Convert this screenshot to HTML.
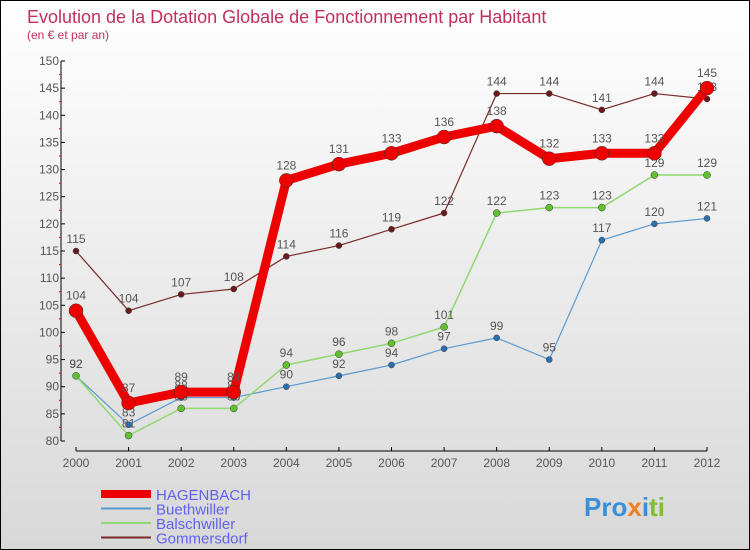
<!DOCTYPE html>
<html><head><meta charset="utf-8"><style>
body{margin:0}
#c{width:748px;height:548px;border:1px solid #000;background:linear-gradient(#fff,#d8d8d8);position:relative;overflow:hidden;font-family:"Liberation Sans",sans-serif}
</style></head><body>
<div id="c">
<svg id="s" width="748" height="548">
<text x="26" y="22" font-size="18" fill="#c0305a">Evolution de la Dotation Globale de Fonctionnement par Habitant</text>
<text x="26" y="38" font-size="12" fill="#c0305a">(en € et par an)</text>
<g id="ax"></g><g id="ser"></g><g id="leg"></g>
<text x="583" y="515" font-size="26" font-weight="bold"><tspan fill="#3a8fd8">Pro</tspan><tspan fill="#f08020">x</tspan><tspan fill="#3a8fd8">i</tspan><tspan fill="#80c030">ti</tspan></text>
</svg>
</div>
<script>
const years=[2000,2001,2002,2003,2004,2005,2006,2007,2008,2009,2010,2011,2012];
const yTicks=[80,85,90,95,100,105,110,115,120,125,130,135,140,145,150];
const hagenbach=[104,87,89,89,128,131,133,136,138,132,133,133,145];
const buethwiller=[92,83,88,88,90,92,94,97,99,95,117,120,121];
const balschwiller=[92,81,86,86,94,96,98,101,122,123,123,129,129];
const gommersdorf=[115,104,107,108,114,116,119,122,144,144,141,144,143];
const NS="http://www.w3.org/2000/svg";
const X=i=>75+i*(631/12);
const Y=v=>440-(v-80)*(380/70);
function mk(p,t,a){const e=document.createElementNS(NS,t);for(const k in a)e.setAttribute(k,a[k]);p.appendChild(e);return e;}
const ax=document.getElementById('ax');
let e=mk(ax,'line',{x1:60,y1:Y(150),x2:60,y2:Y(80),stroke:'#000'});


e=mk(ax,'line',{x1:X(0),y1:450,x2:X(12),y2:450,stroke:'#000'});


yTicks.forEach(v=>{mk(ax,'line',{x1:60,y1:Y(v),x2:64,y2:Y(v),stroke:'#000'});
 if(v<150)mk(ax,'line',{x1:58,y1:Y(v+2.5),x2:60,y2:Y(v+2.5),stroke:'#e00'});
 const t=mk(ax,'text',{x:58,y:Y(v)+4,'font-size':12,fill:'#555','text-anchor':'end'});t.textContent=v;
 
 });
years.forEach((y,i)=>{mk(ax,'line',{x1:X(i),y1:446,x2:X(i),y2:450,stroke:'#000'});
 const t=mk(ax,'text',{x:X(i),y:466,'font-size':12,fill:'#555','text-anchor':'middle'});t.textContent=y;
 
 });
const series=[[gommersdorf,'#7a2a2a','#6a1a1a',1.2,3,'gommersdorf'],[buethwiller,'#5a9ad0','#2a70b0',1.2,3,'buethwiller'],[balschwiller,'#90d870','#60c030',1.5,3.5,'balschwiller'],[hagenbach,'#ee0000','#ee0000',9,7,'hagenbach']];
const sg=document.getElementById('ser');
series.forEach(([d,c,pc,w,r,n])=>{
 const g=mk(sg,'g',{});
 
 
 const l=mk(g,'polyline',{points:d.map((v,i)=>X(i)+','+Y(v)).join(' '),fill:'none',stroke:c,'stroke-width':w,'stroke-linejoin':'round'});
 
 
 d.forEach((v,i)=>{const p=mk(g,'circle',{cx:X(i),cy:Y(v),r:r,fill:pc,stroke:'#333','stroke-width':0.5});
  
  
  const t=mk(g,'text',{x:X(i),y:Y(v)-(n==='hagenbach'?11:8),'font-size':12,fill:'#555','text-anchor':'middle'});t.textContent=v;
  
  });
});
const lg=document.getElementById('leg');
[['HAGENBACH','#ee0000',8],['Buethwiller','#5a9ad0',2],['Balschwiller','#90d870',2],['Gommersdorf','#7a2a2a',2]].forEach(([n,c,w],i)=>{
 const y=493+i*14.5;
 const l=mk(lg,'line',{x1:100,y1:y,x2:150,y2:y,stroke:c,'stroke-width':w});
 
 
 const t=mk(lg,'text',{x:155,y:y+6,'font-size':15,fill:'#6060f0'});t.textContent=n;
 
 
});
</script>
</body></html>
